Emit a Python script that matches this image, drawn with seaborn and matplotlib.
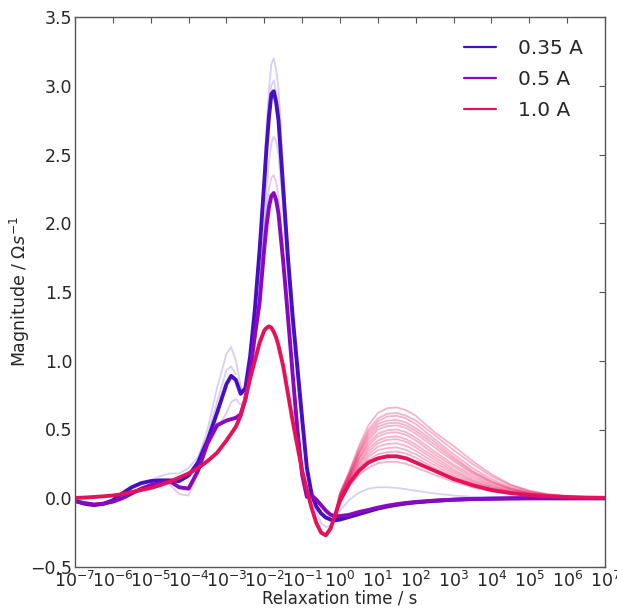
import matplotlib
matplotlib.use("Agg")
import matplotlib.pyplot as plt
import seaborn as sns
import pandas as pd
from matplotlib.lines import Line2D
from matplotlib.ticker import NullLocator

# log10 of relaxation time (s), shared grid for all curves
log_tau = [-7, -6.75, -6.5, -6.25, -6, -5.75, -5.5, -5.25, -5, -4.75,
           -4.5, -4.25, -4, -3.75, -3.5, -3.25, -3, -2.875, -2.75, -2.625,
           -2.5, -2.375, -2.25, -2.125, -2, -1.9375, -1.875, -1.8125, -1.75, -1.6875,
           -1.625, -1.5, -1.375, -1.25, -1.125, -1, -0.875, -0.75, -0.625, -0.5,
           -0.375, -0.25, -0.125, 0, 0.25, 0.5, 0.75, 1, 1.25, 1.5,
           1.75, 2, 2.5, 3, 3.5, 4, 4.5, 5, 5.5, 6,
           6.5, 7]

# mean distributions
mag_035 = [-0.02, -0.04, -0.05, -0.04, -0.015, 0.035, 0.08, 0.11, 0.125, 0.13,
           0.13, 0.125, 0.165, 0.26, 0.42, 0.62, 0.83, 0.89, 0.86, 0.76,
           0.8, 1.03, 1.37, 1.8, 2.3, 2.56, 2.78, 2.94, 2.96, 2.88,
           2.75, 2.25, 1.75, 1.32, 0.95, 0.58, 0.22, 0.03, -0.06, -0.11,
           -0.14, -0.155, -0.16, -0.155, -0.135, -0.115, -0.095, -0.075, -0.06, -0.048,
           -0.038, -0.03, -0.019, -0.011, -0.006, -0.003, -0.001, 0, 0, 0,
           0, 0]
mag_05 = [-0.02, -0.035, -0.045, -0.04, -0.025, 0.0, 0.035, 0.07, 0.095, 0.11,
          0.125, 0.08, 0.07, 0.2, 0.4, 0.53, 0.565, 0.575, 0.585, 0.61,
          0.72, 0.93, 1.18, 1.42, 1.82, 1.99, 2.12, 2.2, 2.22, 2.17,
          2.07, 1.72, 1.32, 0.9, 0.5, 0.17, 0.01, 0.02, -0.01, -0.05,
          -0.09, -0.12, -0.13, -0.13, -0.12, -0.1, -0.085, -0.068, -0.054, -0.043,
          -0.034, -0.027, -0.017, -0.01, -0.005, -0.003, -0.001, 0, 0, 0,
          0, 0]
mag_10 = [0.002, 0.005, 0.009, 0.014, 0.02, 0.03, 0.045, 0.06, 0.075, 0.095,
          0.12, 0.15, 0.18, 0.22, 0.27, 0.33, 0.42, 0.47, 0.52, 0.6,
          0.72, 0.87, 1.0, 1.13, 1.22, 1.24, 1.25, 1.24, 1.21, 1.17,
          1.11, 0.96, 0.76, 0.56, 0.38, 0.2, 0.06, -0.07, -0.18, -0.25,
          -0.27, -0.22, -0.12, -0.02, 0.11, 0.2, 0.26, 0.29, 0.305, 0.305,
          0.29, 0.26, 0.2, 0.14, 0.095, 0.06, 0.038, 0.024, 0.015, 0.009,
          0.005, 0.003]

# individual runs: (log10 tau where the run starts on the grid, values)
runs_035 = [
    (-2.5, [0.8, 1.02, 1.38, 1.85, 2.42, 2.72, 2.98, 3.16, 3.2, 3.12, 2.98, 2.4, 1.8, 1.35, 0.92, 0.57, 0.22, 0.03]),
    (-2.5, [0.8, 1.03, 1.37, 1.82, 2.36, 2.62, 2.86, 3.0, 3.04, 2.96, 2.82, 2.3, 1.76, 1.33, 0.94, 0.58, 0.22, 0.03]),
    (-4, [0.16, 0.28, 0.5, 0.8, 1.05, 1.1, 1.0, 0.82, 0.72, 0.85, 1.1, 1.5, 2.0, 2.24, 2.45, 2.58, 2.63,
          2.6, 2.5, 2.1, 1.6, 1.2, 0.85, 0.5, 0.2, 0.02, -0.06, -0.1]),
    (-5, [0.13, 0.16, 0.18, 0.18, 0.22, 0.3, 0.45, 0.7, 0.93, 0.96, 0.9]),
    (-1, [0.55, 0.2, 0.0, -0.1, -0.18, -0.21, -0.2, -0.15, -0.09, -0.01, 0.04, 0.07, 0.08,
          0.08, 0.075, 0.065, 0.055, 0.035, 0.02, 0.01, 0.004]),
]
runs_05 = [
    (-2.5, [0.72, 0.95, 1.22, 1.55, 1.95, 2.12, 2.25, 2.33, 2.35, 2.3, 2.2, 1.8, 1.38, 0.95, 0.53, 0.18, 0.01, 0.02]),
    (-5, [0.1, 0.12, 0.1, 0.03, 0.02, 0.18, 0.38, 0.5, 0.62, 0.7, 0.72, 0.68, 0.72]),
]
runs_10 = [
    (-0.25, [-0.22, -0.1, 0.04, 0.2, 0.38, 0.53, 0.62, 0.655, 0.66, 0.64, 0.6, 0.48, 0.38, 0.27, 0.175, 0.1, 0.055, 0.03, 0.016, 0.008, 0.004]),
    (-0.25, [-0.22, -0.1, 0.035, 0.19, 0.36, 0.5, 0.58, 0.615, 0.62, 0.6, 0.565, 0.46, 0.35, 0.25, 0.16, 0.095, 0.052, 0.028, 0.015, 0.007, 0.003]),
    (-0.25, [-0.22, -0.11, 0.03, 0.18, 0.34, 0.48, 0.56, 0.595, 0.6, 0.58, 0.54, 0.43, 0.32, 0.22, 0.14, 0.082, 0.045, 0.024, 0.013, 0.006, 0.003]),
    (-0.25, [-0.22, -0.11, 0.025, 0.17, 0.33, 0.46, 0.54, 0.565, 0.57, 0.55, 0.51, 0.41, 0.3, 0.2, 0.125, 0.072, 0.04, 0.021, 0.011, 0.005, 0.003]),
    (-0.25, [-0.22, -0.11, 0.02, 0.165, 0.32, 0.44, 0.52, 0.545, 0.55, 0.53, 0.49, 0.39, 0.285, 0.19, 0.12, 0.07, 0.038, 0.02, 0.01, 0.005, 0.003]),
    (-0.25, [-0.22, -0.11, 0.015, 0.16, 0.3, 0.42, 0.5, 0.525, 0.53, 0.51, 0.47, 0.37, 0.27, 0.18, 0.112, 0.065, 0.035, 0.019, 0.01, 0.005, 0.002]),
    (-0.25, [-0.22, -0.115, 0.01, 0.15, 0.29, 0.4, 0.47, 0.495, 0.5, 0.48, 0.44, 0.34, 0.245, 0.165, 0.1, 0.058, 0.032, 0.017, 0.009, 0.004, 0.002]),
    (-0.25, [-0.22, -0.115, 0.005, 0.145, 0.28, 0.38, 0.45, 0.475, 0.48, 0.46, 0.42, 0.32, 0.23, 0.15, 0.092, 0.053, 0.03, 0.016, 0.008, 0.004, 0.002]),
    (-0.25, [-0.22, -0.115, 0.0, 0.14, 0.26, 0.36, 0.42, 0.445, 0.45, 0.43, 0.39, 0.3, 0.21, 0.135, 0.083, 0.048, 0.027, 0.015, 0.008, 0.004, 0.002]),
    (-0.25, [-0.22, -0.12, 0.0, 0.13, 0.25, 0.34, 0.4, 0.425, 0.43, 0.41, 0.37, 0.28, 0.195, 0.125, 0.077, 0.045, 0.025, 0.014, 0.007, 0.004, 0.002]),
    (-0.25, [-0.22, -0.12, -0.005, 0.125, 0.235, 0.32, 0.375, 0.395, 0.4, 0.38, 0.345, 0.26, 0.18, 0.115, 0.07, 0.041, 0.023, 0.013, 0.007, 0.003, 0.002]),
    (-0.25, [-0.22, -0.12, -0.01, 0.12, 0.22, 0.3, 0.35, 0.365, 0.37, 0.35, 0.32, 0.24, 0.165, 0.105, 0.064, 0.037, 0.021, 0.012, 0.006, 0.003, 0.002]),
    (-0.25, [-0.22, -0.12, -0.015, 0.115, 0.21, 0.28, 0.32, 0.335, 0.34, 0.325, 0.295, 0.22, 0.15, 0.097, 0.059, 0.034, 0.019, 0.011, 0.006, 0.003, 0.002]),
    (-0.25, [-0.23, -0.13, -0.03, 0.09, 0.17, 0.22, 0.255, 0.265, 0.265, 0.25, 0.225, 0.17, 0.12, 0.08, 0.05, 0.03, 0.018, 0.01, 0.006, 0.003, 0.002]),
]

labels = ["0.35 A", "0.5 A", "1.0 A"]
colors = ["#4510C2", "#8A08BE", "#E5125A"]
run_alpha = [0.2, 0.22, 0.32]

sns.set_style("white")
plt.rcParams["font.family"] = ["DejaVu Sans"]

fig = plt.figure(figsize=(6.17, 6.08), dpi=100)
ax = fig.add_axes([75 / 617, 1 - 567 / 608, 530 / 617, 550 / 608])

tau = [10.0 ** v for v in log_tau]


def runs_frame(runs):
    rows = []
    for k, (start, vals) in enumerate(runs):
        i0 = log_tau.index(start)
        for j, v in enumerate(vals):
            rows.append({"run": k, "tau": tau[i0 + j], "mag": v})
    return pd.DataFrame(rows)


for runs, mean, col, a in zip([runs_035, runs_05, runs_10],
                              [mag_035, mag_05, mag_10], colors, run_alpha):
    sns.lineplot(data=runs_frame(runs), x="tau", y="mag", units="run",
                 estimator=None, color=col, alpha=a, lw=1.3, ax=ax,
                 legend=False)
    sns.lineplot(x=tau, y=mean, color=col, lw=2.8, ax=ax)

ax.set_xscale("log")
ax.set_xlim(1e-7, 1e7)
ax.set_ylim(-0.5, 3.5)
ax.set_xticks([10.0 ** k for k in range(-7, 8)])
ax.set_xticklabels([f"$10^{{{k}}}$" for k in range(-7, 8)])
ax.xaxis.set_minor_locator(NullLocator())
ax.set_yticks([-0.5, 0.0, 0.5, 1.0, 1.5, 2.0, 2.5, 3.0, 3.5])

ax.tick_params(direction="in", top=True, right=True, length=4,
               labelsize=12.5, color="#555555")
ax.tick_params(axis="y", pad=2)
ax.tick_params(axis="x", pad=3)
for s in ax.spines.values():
    s.set_color("#555555")
    s.set_linewidth(1.0)

ax.set_xlabel("Relaxation time / s", fontsize=12, labelpad=-1)
ax.set_ylabel(r"Magnitude / $\Omega s^{-1}$", fontsize=12.5, labelpad=-1)

handles = [Line2D([], [], color=c, lw=1.6) for c in colors]
ax.legend(handles, labels, loc="upper right", frameon=False, fontsize=14.5,
          handlelength=1.6, handletextpad=1.1, labelspacing=0.6,
          borderaxespad=0.7)

fig.savefig("out.png", dpi=100)
